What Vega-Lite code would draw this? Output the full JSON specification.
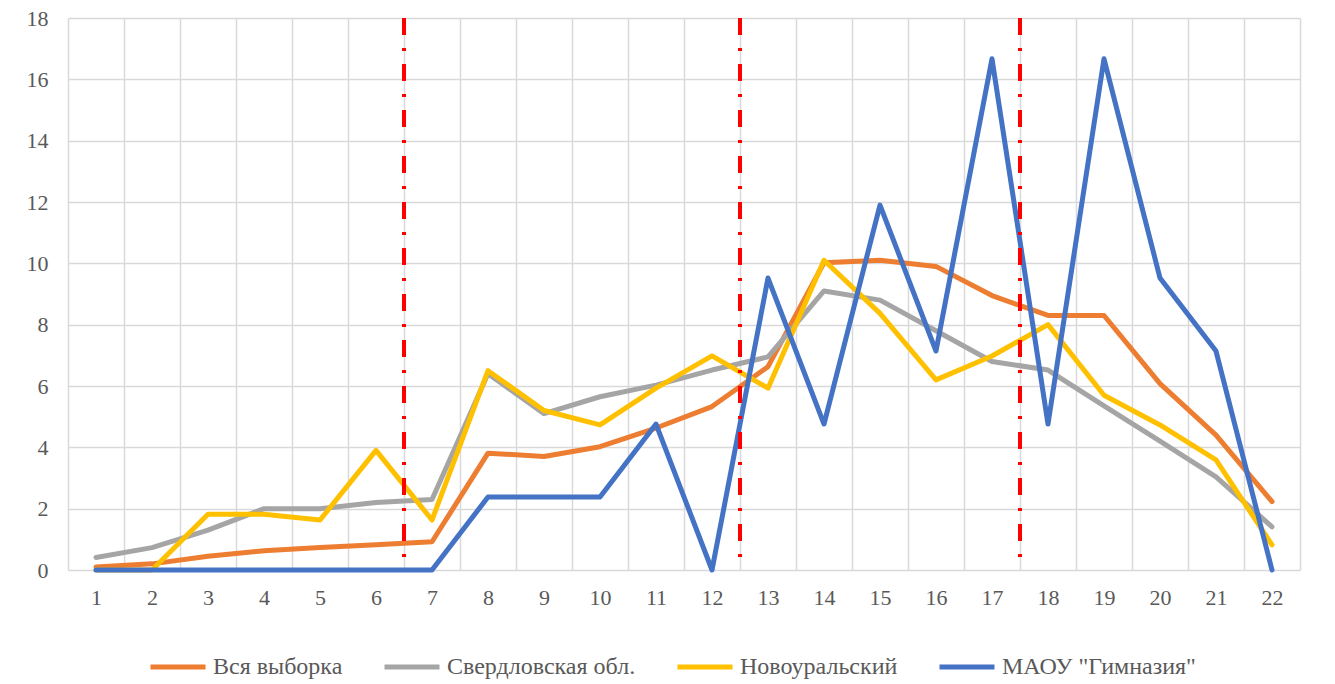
{
  "$schema": "https://vega.github.io/schema/vega-lite/v6.json",
  "width": 1232,
  "height": 552,
  "autosize": {"type": "none"},
  "padding": {"left": 68, "top": 18, "right": 35, "bottom": 114},
  "background": "white",
  "config": {
    "view": {"stroke": null},
    "font": "Liberation Serif, serif",
    "axis": {"labelFont": "Liberation Serif, serif"},
    "legend": {"labelFont": "Liberation Serif, serif"}
  },
  "layer": [
    {
      "data": {
        "values": [
          {"x": 1, "s": "Вся выборка", "v": 0.1}, {"x": 2, "s": "Вся выборка", "v": 0.2}, {"x": 3, "s": "Вся выборка", "v": 0.45}, {"x": 4, "s": "Вся выборка", "v": 0.63}, {"x": 5, "s": "Вся выборка", "v": 0.73}, {"x": 6, "s": "Вся выборка", "v": 0.82}, {"x": 7, "s": "Вся выборка", "v": 0.92}, {"x": 8, "s": "Вся выборка", "v": 3.81}, {"x": 9, "s": "Вся выборка", "v": 3.7}, {"x": 10, "s": "Вся выборка", "v": 4.02}, {"x": 11, "s": "Вся выборка", "v": 4.63}, {"x": 12, "s": "Вся выборка", "v": 5.33}, {"x": 13, "s": "Вся выборка", "v": 6.63}, {"x": 14, "s": "Вся выборка", "v": 10.02}, {"x": 15, "s": "Вся выборка", "v": 10.1}, {"x": 16, "s": "Вся выборка", "v": 9.9}, {"x": 17, "s": "Вся выборка", "v": 8.95}, {"x": 18, "s": "Вся выборка", "v": 8.3}, {"x": 19, "s": "Вся выборка", "v": 8.3}, {"x": 20, "s": "Вся выборка", "v": 6.08}, {"x": 21, "s": "Вся выборка", "v": 4.4}, {"x": 22, "s": "Вся выборка", "v": 2.23},
          {"x": 1, "s": "Свердловская обл.", "v": 0.41}, {"x": 2, "s": "Свердловская обл.", "v": 0.73}, {"x": 3, "s": "Свердловская обл.", "v": 1.3}, {"x": 4, "s": "Свердловская обл.", "v": 2.0}, {"x": 5, "s": "Свердловская обл.", "v": 2.0}, {"x": 6, "s": "Свердловская обл.", "v": 2.2}, {"x": 7, "s": "Свердловская обл.", "v": 2.3}, {"x": 8, "s": "Свердловская обл.", "v": 6.4}, {"x": 9, "s": "Свердловская обл.", "v": 5.1}, {"x": 10, "s": "Свердловская обл.", "v": 5.65}, {"x": 11, "s": "Свердловская обл.", "v": 6.03}, {"x": 12, "s": "Свердловская обл.", "v": 6.52}, {"x": 13, "s": "Свердловская обл.", "v": 6.95}, {"x": 14, "s": "Свердловская обл.", "v": 9.1}, {"x": 15, "s": "Свердловская обл.", "v": 8.8}, {"x": 16, "s": "Свердловская обл.", "v": 7.8}, {"x": 17, "s": "Свердловская обл.", "v": 6.8}, {"x": 18, "s": "Свердловская обл.", "v": 6.52}, {"x": 19, "s": "Свердловская обл.", "v": 5.35}, {"x": 20, "s": "Свердловская обл.", "v": 4.2}, {"x": 21, "s": "Свердловская обл.", "v": 3.04}, {"x": 22, "s": "Свердловская обл.", "v": 1.41},
          {"x": 1, "s": "Новоуральский", "v": 0}, {"x": 2, "s": "Новоуральский", "v": 0}, {"x": 3, "s": "Новоуральский", "v": 1.82}, {"x": 4, "s": "Новоуральский", "v": 1.82}, {"x": 5, "s": "Новоуральский", "v": 1.63}, {"x": 6, "s": "Новоуральский", "v": 3.9}, {"x": 7, "s": "Новоуральский", "v": 1.63}, {"x": 8, "s": "Новоуральский", "v": 6.5}, {"x": 9, "s": "Новоуральский", "v": 5.2}, {"x": 10, "s": "Новоуральский", "v": 4.73}, {"x": 11, "s": "Новоуральский", "v": 5.93}, {"x": 12, "s": "Новоуральский", "v": 6.98}, {"x": 13, "s": "Новоуральский", "v": 5.93}, {"x": 14, "s": "Новоуральский", "v": 10.1}, {"x": 15, "s": "Новоуральский", "v": 8.37}, {"x": 16, "s": "Новоуральский", "v": 6.2}, {"x": 17, "s": "Новоуральский", "v": 6.98}, {"x": 18, "s": "Новоуральский", "v": 8.0}, {"x": 19, "s": "Новоуральский", "v": 5.7}, {"x": 20, "s": "Новоуральский", "v": 4.73}, {"x": 21, "s": "Новоуральский", "v": 3.59}, {"x": 22, "s": "Новоуральский", "v": 0.82},
          {"x": 1, "s": "МАОУ \"Гимназия\"", "v": 0}, {"x": 2, "s": "МАОУ \"Гимназия\"", "v": 0}, {"x": 3, "s": "МАОУ \"Гимназия\"", "v": 0}, {"x": 4, "s": "МАОУ \"Гимназия\"", "v": 0}, {"x": 5, "s": "МАОУ \"Гимназия\"", "v": 0}, {"x": 6, "s": "МАОУ \"Гимназия\"", "v": 0}, {"x": 7, "s": "МАОУ \"Гимназия\"", "v": 0}, {"x": 8, "s": "МАОУ \"Гимназия\"", "v": 2.38}, {"x": 9, "s": "МАОУ \"Гимназия\"", "v": 2.38}, {"x": 10, "s": "МАОУ \"Гимназия\"", "v": 2.38}, {"x": 11, "s": "МАОУ \"Гимназия\"", "v": 4.76}, {"x": 12, "s": "МАОУ \"Гимназия\"", "v": 0}, {"x": 13, "s": "МАОУ \"Гимназия\"", "v": 9.52}, {"x": 14, "s": "МАОУ \"Гимназия\"", "v": 4.76}, {"x": 15, "s": "МАОУ \"Гимназия\"", "v": 11.9}, {"x": 16, "s": "МАОУ \"Гимназия\"", "v": 7.14}, {"x": 17, "s": "МАОУ \"Гимназия\"", "v": 16.67}, {"x": 18, "s": "МАОУ \"Гимназия\"", "v": 4.76}, {"x": 19, "s": "МАОУ \"Гимназия\"", "v": 16.67}, {"x": 20, "s": "МАОУ \"Гимназия\"", "v": 9.52}, {"x": 21, "s": "МАОУ \"Гимназия\"", "v": 7.14}, {"x": 22, "s": "МАОУ \"Гимназия\"", "v": 0}
        ]
      },
      "mark": {"type": "line", "strokeWidth": 5, "strokeCap": "round", "strokeJoin": "round"},
      "encoding": {
        "x": {
          "field": "x",
          "type": "ordinal",
          "scale": {"type": "band", "paddingInner": 0, "paddingOuter": 0, "domain": [1,2,3,4,5,6,7,8,9,10,11,12,13,14,15,16,17,18,19,20,21,22]},
          "axis": {
            "title": null,
            "labelAngle": 0,
            "tickBand": "extent",
            "grid": true,
            "gridColor": "#D9D9D9",
            "gridWidth": 1.5,
            "gridOpacity": 1,
            "tickOpacity": 0,
            "tickSize": 0,
            "domain": false,
            "labelPadding": 17,
            "labelFont": "Liberation Serif, serif",
            "labelFontSize": 22,
            "labelColor": "#595959"
          }
        },
        "y": {
          "field": "v",
          "type": "quantitative",
          "scale": {"domain": [0, 18], "nice": false},
          "axis": {
            "title": null,
            "values": [0, 2, 4, 6, 8, 10, 12, 14, 16, 18],
            "grid": true,
            "gridColor": "#D9D9D9",
            "gridWidth": 1.5,
            "tickOpacity": 0,
            "tickSize": 0,
            "domain": false,
            "labelPadding": 20,
            "labelFont": "Liberation Serif, serif",
            "labelFontSize": 22,
            "labelColor": "#595959"
          }
        },
        "color": {
          "field": "s",
          "type": "nominal",
          "scale": {
            "domain": ["Вся выборка", "Свердловская обл.", "Новоуральский", "МАОУ \"Гимназия\""],
            "range": ["#ED7D31", "#A5A5A5", "#FFC000", "#4472C4"]
          },
          "legend": {
            "title": null,
            "orient": "none",
            "direction": "horizontal",
            "legendX": 80,
            "legendY": 619,
            "symbolType": "stroke",
            "symbolStrokeWidth": 5,
            "symbolSize": 3025,
            "labelFont": "Liberation Serif, serif",
            "labelFontSize": 24,
            "labelColor": "#595959",
            "labelLimit": 400,
            "labelOffset": 5,
            "columnPadding": 31
          }
        }
      }
    },
    {
      "data": {"values": [{"cut": 6}, {"cut": 12}, {"cut": 17}]},
      "mark": {"type": "rule", "color": "#FF0000", "strokeWidth": 4, "strokeDash": [17, 13, 3, 13]},
      "encoding": {
        "x": {"field": "cut", "type": "ordinal", "bandPosition": 1}
      }
    }
  ]
}
